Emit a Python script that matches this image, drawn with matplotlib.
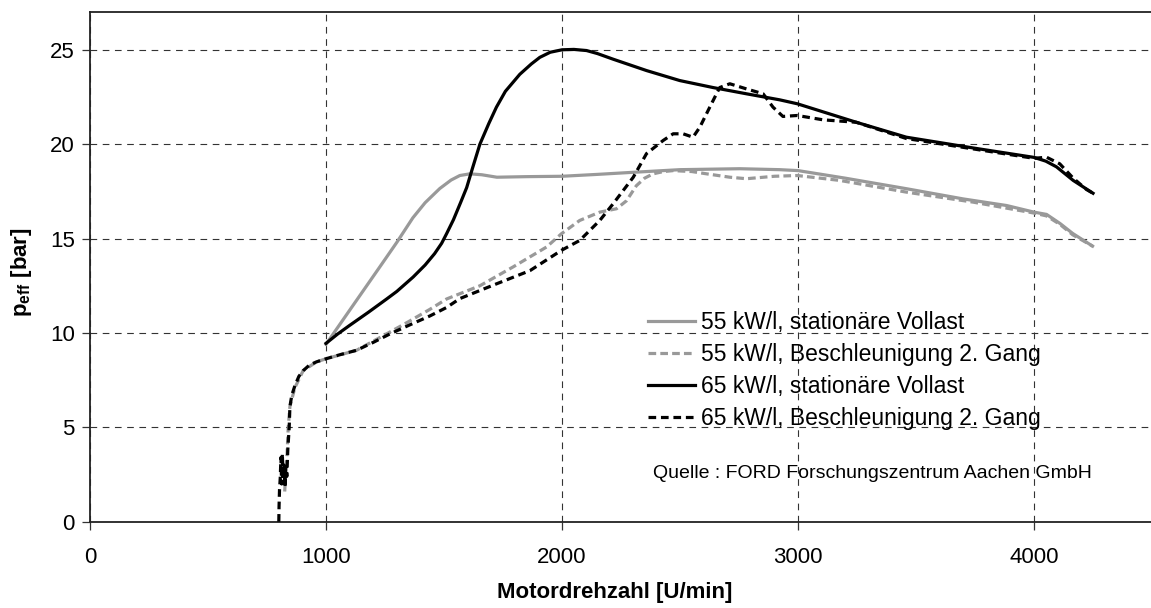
import matplotlib
matplotlib.use('Agg')
import matplotlib.pyplot as plt

plt.rcParams['font.family'] = ['Liberation Sans', 'DejaVu Sans']
plt.rcParams['mathtext.fontset'] = 'custom'
plt.rcParams['mathtext.rm'] = 'Liberation Sans'
plt.rcParams['mathtext.bf'] = 'Liberation Sans:bold'

# 55 kW/l, stationaere Vollast
n55_stat = [1000, 1100, 1228, 1300, 1368, 1420, 1482, 1530, 1567, 1610, 1660, 1724,
            1850, 2000, 2150, 2287, 2500, 2753, 2922, 3000, 3200, 3460, 3700, 3884,
            4000, 4053, 4110, 4164, 4248]
p55_stat = [9.4, 11.2, 13.5, 14.8, 16.1, 16.9, 17.65, 18.1, 18.34, 18.43, 18.38, 18.25,
            18.28, 18.3, 18.4, 18.5, 18.65, 18.7, 18.65, 18.6, 18.2, 17.64, 17.1, 16.75,
            16.4, 16.28, 15.8, 15.27, 14.6]

# 55 kW/l, Beschleunigung 2. Gang
n55_acc = [825, 830, 835, 840, 847, 868, 903, 960, 1002, 1129, 1271, 1350, 1440,
           1511, 1652, 1793, 1934, 1998, 2075, 2160, 2231, 2273, 2315, 2350, 2386, 2430,
           2471, 2550, 2612, 2711, 2781, 2900, 2997, 3177, 3459, 3742, 4000, 4053, 4110,
           4164, 4248]
p55_acc = [1.6, 2.8, 3.6, 5.0, 6.1, 7.1, 8.0, 8.47, 8.64, 9.08, 10.05, 10.6, 11.25,
           11.8, 12.5, 13.5, 14.55, 15.26, 15.96, 16.4, 16.58, 17.0, 17.8, 18.2, 18.43, 18.55,
           18.6, 18.55, 18.43, 18.25, 18.17, 18.3, 18.34, 18.08, 17.46, 16.93, 16.35, 16.2,
           15.75, 15.2, 14.6]

# 65 kW/l, stationaere Vollast
n65_stat = [1000, 1050, 1100, 1180, 1257, 1300, 1369, 1420, 1460, 1490, 1511, 1540,
            1570, 1596, 1620, 1652, 1690, 1722, 1760, 1821, 1870, 1906, 1950, 2000,
            2050, 2104, 2150, 2217, 2358, 2499, 2640, 2781, 2922, 2997, 3247, 3459,
            3742, 4000, 4050, 4095, 4166, 4250]
p65_stat = [9.45, 9.95, 10.4, 11.1, 11.8, 12.2, 12.96, 13.6, 14.2, 14.75, 15.26, 16.0,
            16.9, 17.7, 18.7, 20.0, 21.1, 21.96, 22.8, 23.7, 24.25, 24.6, 24.87, 25.0,
            25.02, 24.96, 24.8, 24.5, 23.9, 23.37, 23.0, 22.67, 22.35, 22.14, 21.16, 20.37,
            19.8, 19.3, 19.1, 18.8, 18.08, 17.4]

# 65 kW/l, Beschleunigung 2. Gang
n65_acc = [800, 801, 803, 806, 809, 812, 815, 818, 822, 826, 830, 834, 838, 841, 844,
           847, 855, 868, 885, 903, 930, 960, 1002, 1060, 1129, 1200, 1271, 1350, 1440,
           1511, 1567, 1722, 1864, 1998, 2075, 2160, 2217, 2302, 2358, 2429, 2471, 2513,
           2555, 2584, 2626, 2668, 2711, 2781, 2852, 2894, 2936, 2997, 3106, 3247, 3459,
           3742, 4000, 4053, 4109, 4166, 4222, 4250]
p65_acc = [0, 0.8, 1.7, 2.3, 3.4, 2.0, 3.6, 2.2, 3.0, 1.8, 2.9, 2.4, 3.8, 4.4, 5.0,
           6.1, 6.7, 7.2, 7.7, 8.0, 8.3, 8.47, 8.64, 8.85, 9.08, 9.5, 9.95, 10.4, 10.9,
           11.35, 11.82, 12.6, 13.3, 14.38, 14.9, 15.96, 16.85, 18.25, 19.5, 20.2, 20.55, 20.55,
           20.37, 20.9, 21.96, 23.0, 23.2, 22.93, 22.67, 21.96, 21.47, 21.52, 21.29, 21.16, 20.3,
           19.75, 19.25, 19.31, 18.96, 18.2, 17.6, 17.4]

labels = ['55 kW/l, stationäre Vollast',
          '55 kW/l, Beschleunigung 2. Gang',
          '65 kW/l, stationäre Vollast',
          '65 kW/l, Beschleunigung 2. Gang']

fig = plt.figure(figsize=(11.51, 6.08), dpi=100)
ax = fig.add_axes([0.0782, 0.1419, 0.9227, 0.8383])

gray = '#999999'
lw = 2.3
ax.plot(n55_stat, p55_stat, color=gray, lw=lw, label=labels[0], zorder=3)
ax.plot(n55_acc, p55_acc, color=gray, lw=lw, dashes=(2.4, 1.3), label=labels[1], zorder=3)
ax.plot(n65_stat, p65_stat, color='black', lw=lw, label=labels[2], zorder=4)
ax.plot(n65_acc, p65_acc, color='black', lw=lw, dashes=(2.4, 1.5), label=labels[3], zorder=4)

ax.set_xlim(0, 4500)
ax.set_ylim(0, 27)
ax.set_xticks([0, 1000, 2000, 3000, 4000])
ax.set_yticks([0, 5, 10, 15, 20, 25])
ax.grid(True, color='#333333', lw=0.8, dashes=(6, 5))
ax.set_axisbelow(True)

for s in ['left', 'bottom', 'top']:
    ax.spines[s].set_color('#222222')
    ax.spines[s].set_linewidth(1.3)
ax.spines['right'].set_visible(False)

ax.tick_params(axis='both', labelsize=16, length=6, width=0.9, color='#333333')
ax.tick_params(axis='x', pad=12)
ax.tick_params(axis='y', pad=5)

ax.set_xlabel('Motordrehzahl [U/min]', fontsize=16, fontweight='bold')
ax.xaxis.set_label_coords((615 - 90) / 1062, -(582 - 521.7) / 509.7)
ax.set_ylabel(r'p$_{\mathbf{eff}}$ [bar]', fontsize=16, fontweight='bold')
ax.yaxis.set_label_coords(-(90 - 34) / 1062, 0.49)

leg = ax.legend(loc='center left', bbox_to_anchor=(648 / 1151, 1 - 370.5 / 608),
                bbox_transform=fig.transFigure, frameon=False, fontsize=16.5,
                handlelength=2.05, handletextpad=0.25, labelspacing=0.38,
                borderpad=0, borderaxespad=0)

fig.text(653 / 1151, 1 - 473 / 608, 'Quelle : FORD Forschungszentrum Aachen GmbH',
         fontsize=14, ha='left', va='center')

fig.savefig('out.png', dpi=100)
